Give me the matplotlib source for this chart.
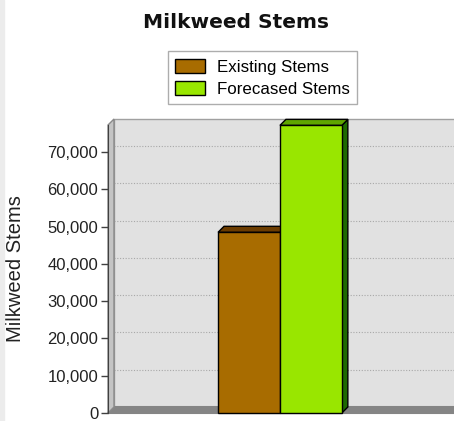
import matplotlib
matplotlib.use('Agg')
import matplotlib.pyplot as plt
from matplotlib.patches import Polygon, Rectangle
from matplotlib.ticker import FuncFormatter

# data
series = ['Existing Stems', 'Forecased Stems']
stems = [48500, 77200]
y_ticks = [0, 10000, 20000, 30000, 40000, 50000, 60000, 70000]

# colours (front, top, side)
front_colors = ['#a86c00', '#99e600']
top_colors = ['#6b3c00', '#5fa600']
side_colors = ['#5a3300', '#1e6a00']

plt.rcParams['font.family'] = ['Liberation Sans', 'DejaVu Sans']

W, H = 454, 421
fig = plt.figure(figsize=(W / 100, H / 100), dpi=100)
fig.patch.set_facecolor('white')
fig.patches.append(Rectangle((0, 0), 4 / W, 1, transform=fig.transFigure,
                             color='#ececec', zorder=0))

# plot area (front plane) in pixels
px_l, px_r, px_b, px_t = 108, 470, 413, 125
ax = fig.add_axes([px_l / W, 1 - px_b / H, (px_r - px_l) / W, (px_b - px_t) / H])
ax.set_facecolor('none')

xmin, xmax = -0.475, 0.525
ymax = 77300
ax.set_xlim(xmin, xmax)
ax.set_ylim(0, ymax)

# 3d depth (6 px) in data units
depth = 6
dx = depth * (xmax - xmin) / (px_r - px_l)
dy = depth * ymax / (px_b - px_t)

# back wall
ax.add_patch(Polygon([(xmin + dx, dy), (xmin + dx, ymax + dy), (xmax + dx, ymax + dy),
                      (xmax + dx, dy)], closed=True, facecolor='#e1e1e1',
                     edgecolor='#a0a0a0', lw=1, clip_on=False, zorder=0.5))
# gridlines on back wall
for t in y_ticks[1:]:
    ax.plot([xmin + dx, xmax + dx], [t + dy, t + dy], color='#a8a8a8', lw=0.8,
            linestyle=(0, (1, 1.5)), clip_on=False, zorder=0.6)
# floor
ax.add_patch(Polygon([(xmin, 0), (xmin + dx, dy), (xmax + dx, dy), (xmax, 0)], closed=True,
                     facecolor='#858585', edgecolor='#858585', lw=1.5, clip_on=False,
                     zorder=0.7))
# left wall
ax.add_patch(Polygon([(xmin, 0), (xmin, ymax), (xmin + dx, ymax + dy), (xmin + dx, dy)],
                     closed=True, facecolor='#c4c4c4', edgecolor='#8a8a8a', lw=1,
                     clip_on=False, zorder=0.8))

# bars
width = 0.171
xs = [-width / 2, width / 2]
handles = []
for i, (x, v) in enumerate(zip(xs, stems)):
    xl, xr = x - width / 2, x + width / 2
    z = 2 + i
    ax.add_patch(Polygon([(xr, 0), (xr + dx, dy), (xr + dx, v + dy), (xr, v)], closed=True,
                         facecolor=side_colors[i], edgecolor='black', lw=1, clip_on=False,
                         zorder=z))
    ax.add_patch(Polygon([(xl, v), (xl + dx, v + dy), (xr + dx, v + dy), (xr, v)], closed=True,
                         facecolor=top_colors[i], edgecolor='black', lw=1, clip_on=False,
                         zorder=z))
    b = ax.bar(x, v, width, color=front_colors[i], edgecolor='black', lw=1,
               label=series[i], clip_on=False, zorder=z + 0.1)
    handles.append(b)

# axes styling
for s in ['top', 'right', 'bottom']:
    ax.spines[s].set_visible(False)
ax.spines['left'].set_color('#404040')
ax.spines['left'].set_zorder(1)
ax.set_xticks([])
ax.set_yticks(y_ticks)
ax.yaxis.set_major_formatter(FuncFormatter(lambda v, p: f'{int(v):,}'))
ax.tick_params(axis='y', length=5, width=1, color='#404040', pad=2, labelsize=12,
               labelcolor='#222222')
ax.set_ylabel('Milkweed Stems', fontsize=14.5, color='#222222')
ax.yaxis.set_label_coords((25 - px_l) / (px_r - px_l), 0.5)

fig.text(236 / W, 1 - 28.5 / H, 'Milkweed Stems', ha='center', va='baseline',
         fontsize=14.5, fontweight='bold', color='#111111', family='DejaVu Sans')

leg = fig.legend(handles=handles, labels=series, loc='upper center',
                 bbox_to_anchor=(262.5 / W, 1 - 51 / H), fontsize=12.2, frameon=True,
                 fancybox=False, edgecolor='#999999', handlelength=1.75, handleheight=0.9,
                 handletextpad=0.7, labelspacing=0.38, borderpad=0.45, borderaxespad=0)
leg.get_frame().set_linewidth(1)

fig.savefig('out.png', dpi=100)
